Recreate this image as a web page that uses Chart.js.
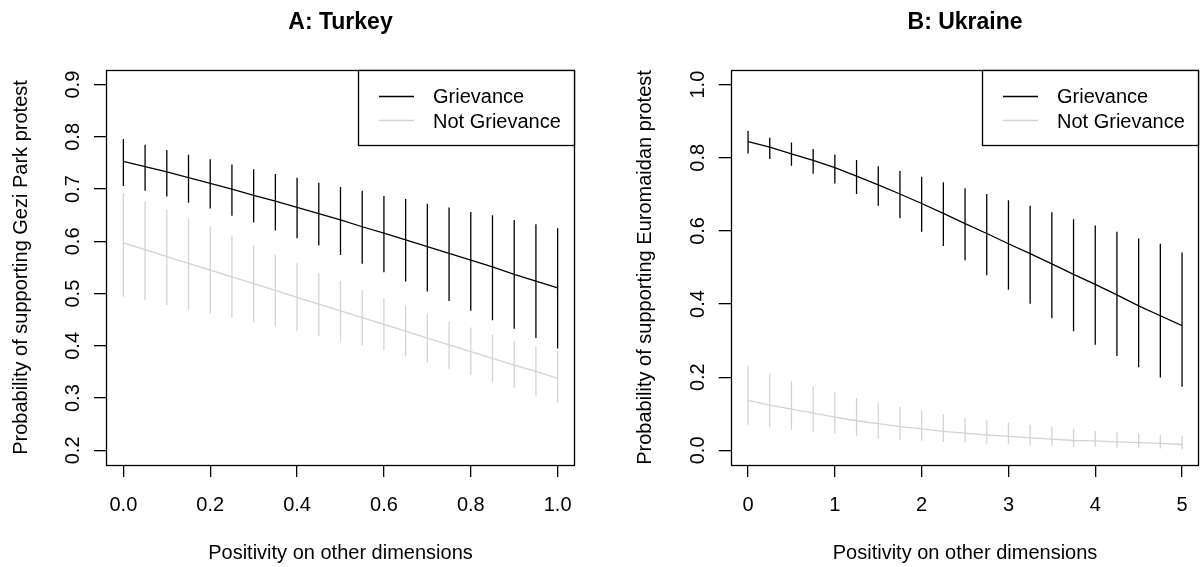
<!DOCTYPE html>
<html><head><meta charset="utf-8">
<script src="https://cdn.jsdelivr.net/npm/chart.js@4"></script>
<style>
html,body{margin:0;padding:0;background:#fff;}
#wrap{position:relative;width:1200px;height:567px;overflow:hidden;}
.pane{position:absolute;top:0;width:600px;height:567px;}
canvas{display:block;}
</style></head><body>
<div id="wrap">
<div class="pane" style="left:0"><canvas id="c1" width="600" height="567"></canvas></div>
<div class="pane" style="left:600px"><canvas id="c2" width="600" height="567"></canvas></div>
</div>
<script>
// ---- Panel A: Turkey ----
const turkeyX = [0,0.05,0.1,0.15,0.2,0.25,0.3,0.35,0.4,0.45,0.5,0.55,0.6,0.65,0.7,0.75,0.8,0.85,0.9,0.95,1];
const turkeyGriev   = [0.753,0.743,0.733,0.722,0.711,0.700,0.688,0.677,0.665,0.653,0.641,0.628,0.616,0.603,0.590,0.577,0.564,0.551,0.537,0.524,0.511];
const turkeyGrievLo = [0.706,0.697,0.686,0.674,0.663,0.649,0.636,0.621,0.606,0.592,0.574,0.557,0.541,0.523,0.504,0.486,0.467,0.449,0.433,0.415,0.395];
const turkeyGrievHi = [0.796,0.785,0.775,0.766,0.757,0.747,0.738,0.729,0.722,0.712,0.704,0.697,0.687,0.681,0.672,0.665,0.656,0.650,0.641,0.633,0.625];
const turkeyNot     = [0.597,0.584,0.571,0.558,0.545,0.532,0.519,0.506,0.493,0.480,0.467,0.454,0.441,0.428,0.415,0.402,0.389,0.376,0.363,0.351,0.338];
const turkeyNotLo   = [0.494,0.488,0.478,0.470,0.462,0.454,0.445,0.437,0.428,0.419,0.410,0.401,0.391,0.380,0.368,0.356,0.344,0.332,0.320,0.305,0.291];
const turkeyNotHi   = [0.692,0.677,0.660,0.643,0.628,0.611,0.592,0.575,0.558,0.540,0.524,0.507,0.491,0.476,0.461,0.446,0.435,0.422,0.410,0.399,0.390];
const turkeyXTicks = [0,0.2,0.4,0.6,0.8,1.0];
const turkeyXTickLabels = ["0.0","0.2","0.4","0.6","0.8","1.0"];
const turkeyYTicks = [0.2,0.3,0.4,0.5,0.6,0.7,0.8,0.9];
const turkeyYTickLabels = ["0.2","0.3","0.4","0.5","0.6","0.7","0.8","0.9"];

// ---- Panel B: Ukraine ----
const ukraineX = [0,0.25,0.5,0.75,1,1.25,1.5,1.75,2,2.25,2.5,2.75,3,3.25,3.5,3.75,4,4.25,4.5,4.75,5];
const ukraineGriev   = [0.844,0.829,0.811,0.793,0.773,0.750,0.726,0.701,0.675,0.648,0.620,0.593,0.565,0.538,0.510,0.481,0.454,0.425,0.395,0.368,0.341];
const ukraineGrievLo = [0.812,0.797,0.778,0.756,0.730,0.701,0.669,0.635,0.598,0.559,0.520,0.479,0.439,0.401,0.361,0.326,0.289,0.258,0.227,0.199,0.174];
const ukraineGrievHi = [0.873,0.855,0.842,0.824,0.809,0.794,0.777,0.764,0.748,0.733,0.717,0.701,0.684,0.669,0.651,0.632,0.615,0.598,0.579,0.565,0.541];
const ukraineNot     = [0.137,0.124,0.113,0.102,0.091,0.081,0.073,0.065,0.059,0.052,0.047,0.042,0.038,0.034,0.031,0.027,0.026,0.023,0.021,0.019,0.016];
const ukraineNotLo   = [0.070,0.064,0.056,0.050,0.046,0.040,0.032,0.029,0.026,0.023,0.021,0.019,0.016,0.014,0.012,0.010,0.009,0.007,0.005,0.005,0.003];
const ukraineNotHi   = [0.233,0.210,0.190,0.174,0.158,0.143,0.129,0.119,0.110,0.099,0.090,0.083,0.076,0.070,0.064,0.059,0.053,0.050,0.047,0.043,0.039];
const ukraineXTicks = [0,1,2,3,4,5];
const ukraineXTickLabels = ["0","1","2","3","4","5"];
const ukraineYTicks = [0,0.2,0.4,0.6,0.8,1.0];
const ukraineYTickLabels = ["0.0","0.2","0.4","0.6","0.8","1.0"];

const seriesNames = ["Grievance","Not Grievance"];
const seriesColors = ["#000000","#d3d3d3"];
const FONT = '"Liberation Sans", Arial, Helvetica, sans-serif';
const LW = 1.3;

function linePts(xs, ys){ return xs.map((x,i)=>({x:x, y:ys[i]})); }
function barPts(xs, lo, hi){
  const p=[]; xs.forEach((x,i)=>{ p.push({x:x,y:lo[i]},{x:x,y:hi[i]},{x:x,y:null}); }); return p;
}

const rPlugin = {
  id:'rstyle',
  afterDraw(chart, args, o){
    const ctx = chart.ctx, a = chart.chartArea, xs = chart.scales.x, ys = chart.scales.y;
    ctx.save();
    ctx.fillStyle = '#000'; ctx.strokeStyle = '#000'; ctx.lineWidth = LW;
    const L=Math.round(a.left), R=Math.round(a.right), T=Math.round(a.top), B=Math.round(a.bottom);
    ctx.strokeRect(L+0.5, T+0.5, R-L-1, B-T);
    // title
    ctx.font = 'bold 23px ' + FONT; ctx.textAlign='center'; ctx.textBaseline='alphabetic';
    ctx.fillText(o.title, (a.left+a.right)/2, 28.5);
    // x tick labels and title
    ctx.font = '20px ' + FONT;
    xs.ticks.forEach((t,i)=>{ ctx.fillText(o.xLabels[i], xs.getPixelForValue(t.value), a.bottom+45.5); });
    ctx.fillText(o.xTitle, (a.left+a.right)/2, a.bottom+94);
    // y tick labels (rotated)
    ys.ticks.forEach((t,i)=>{
      ctx.save(); ctx.translate(a.left-27, ys.getPixelForValue(t.value)); ctx.rotate(-Math.PI/2);
      ctx.fillText(o.yLabels[i], 0, 0); ctx.restore();
    });
    ctx.save(); ctx.translate(a.left-79.5, (a.top+a.bottom)/2); ctx.rotate(-Math.PI/2);
    ctx.fillText(o.yTitle, 0, 0); ctx.restore();
    // legend (top-right, boxed)
    const items = chart.data.datasets.filter(d=>d.inLegend)
      .sort((p,q)=>seriesNames.indexOf(p.label)-seriesNames.indexOf(q.label));
    let tw = 0; items.forEach(d=>{ tw = Math.max(tw, ctx.measureText(d.label).width); });
    const w = 75 + tw + 14, h = 75;
    const lx = Math.round(R - w);
    ctx.fillStyle='#fff'; ctx.fillRect(lx+0.5, T+0.5, R-lx-1, h);
    ctx.strokeStyle='#000'; ctx.lineWidth = LW; ctx.strokeRect(lx+0.5, T+0.5, R-lx-1, h);
    ctx.textAlign='left';
    items.forEach((d,i)=>{
      const yy = T + 25.7 + i*24.5;
      ctx.strokeStyle = d.borderColor; ctx.lineWidth = LW;
      ctx.beginPath(); ctx.moveTo(lx+21, Math.round(yy)+0.5); ctx.lineTo(lx+56, Math.round(yy)+0.5); ctx.stroke();
      ctx.fillStyle = '#000';
      ctx.fillText(d.label, lx+75, yy+7.6);
    });
    ctx.restore();
  }
};

function makePanel(id, cfg){
  const ds = [
    {label:'Not Grievance CI', data:barPts(cfg.x, cfg.notLo, cfg.notHi), borderColor:seriesColors[1], borderWidth:LW, pointRadius:0, spanGaps:false},
    {label:seriesNames[1], inLegend:true, data:linePts(cfg.x, cfg.not), borderColor:seriesColors[1], borderWidth:LW, pointRadius:0, tension:0},
    {label:'Grievance CI', data:barPts(cfg.x, cfg.grLo, cfg.grHi), borderColor:seriesColors[0], borderWidth:LW, pointRadius:0, spanGaps:false},
    {label:seriesNames[0], inLegend:true, data:linePts(cfg.x, cfg.gr), borderColor:seriesColors[0], borderWidth:LW, pointRadius:0, tension:0}
  ];
  const gridOpts = {drawOnChartArea:false, drawTicks:true, tickLength:12, color:'#000', lineWidth:LW};
  return new Chart(document.getElementById(id), {
    type:'line',
    data:{datasets:ds},
    plugins:[rPlugin],
    options:{
      responsive:false, animation:false, devicePixelRatio:1,
      layout:{padding:{left:0, right:cfg.padRight, top:70, bottom:0}},
      plugins:{legend:{display:false}, tooltip:{enabled:false},
        rstyle:{title:cfg.title, xLabels:cfg.xLabels, yLabels:cfg.yLabels,
                xTitle:'Positivity on other dimensions', yTitle:cfg.yTitle}},
      scales:{
        x:{type:'linear', min:cfg.xmin, max:cfg.xmax,
           afterBuildTicks:s=>{ s.ticks = cfg.xTicks.map(v=>({value:v})); },
           afterFit:s=>{ s.height = 102; },
           ticks:{display:false}, grid:gridOpts, border:{display:false}},
        y:{type:'linear', min:cfg.ymin, max:cfg.ymax,
           afterBuildTicks:s=>{ s.ticks = cfg.yTicks.map(v=>({value:v})); },
           afterFit:s=>{ s.width = cfg.left; },
           ticks:{display:false}, grid:gridOpts, border:{display:false}}
      }
    }
  });
}

makePanel('c1', {title:'A: Turkey', x:turkeyX, gr:turkeyGriev, grLo:turkeyGrievLo, grHi:turkeyGrievHi,
  not:turkeyNot, notLo:turkeyNotLo, notHi:turkeyNotHi, xTicks:turkeyXTicks, xLabels:turkeyXTickLabels,
  yTicks:turkeyYTicks, yLabels:turkeyYTickLabels, xmin:-0.04, xmax:1.04, ymin:0.172, ymax:0.928,
  left:106, padRight:25, yTitle:'Probability of supporting Gezi Park protest'});
makePanel('c2', {title:'B: Ukraine', x:ukraineX, gr:ukraineGriev, grLo:ukraineGrievLo, grHi:ukraineGrievHi,
  not:ukraineNot, notLo:ukraineNotLo, notHi:ukraineNotHi, xTicks:ukraineXTicks, xLabels:ukraineXTickLabels,
  yTicks:ukraineYTicks, yLabels:ukraineYTickLabels, xmin:-0.2, xmax:5.2, ymin:-0.04, ymax:1.04,
  left:130.7, padRight:0.6, yTitle:'Probability of supporting Euromaidan protest'});
</script>
</body></html>
